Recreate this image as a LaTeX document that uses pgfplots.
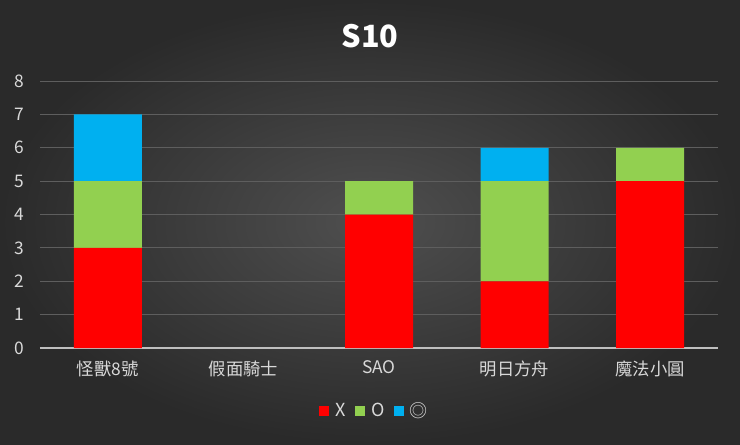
\documentclass[border=0pt]{standalone}
\usepackage{pgfplots}
\pgfplotsset{compat=1.18}
\usepackage{fontspec}
\setmainfont{Noto Sans CJK TC}
\definecolor{cx}{HTML}{FF0000}
\definecolor{co}{HTML}{92D050}
\definecolor{cd}{HTML}{00B0F0}
\definecolor{bgin}{HTML}{4F4F4F}
\definecolor{bgout}{HTML}{2A2A2A}
\definecolor{lbl}{HTML}{D9D9D9}
\definecolor{grd}{HTML}{5E5E5E}
\definecolor{axl}{HTML}{BFBFBF}
\begin{document}
\begin{tikzpicture}
\shade[inner color=bgin, outer color=bgout] (0pt,0pt) rectangle (555pt,333pt);
\node[font=\bfseries\fontsize{23}{26}\selectfont, text=white] at (277.5pt,306pt) {S10};
\begin{axis}[
  at={(30pt,72pt)}, anchor=south west,
  scale only axis, width=508.5pt, height=200.25pt,
  ybar stacked, bar width=51pt,
  xmin=-0.5, xmax=4.5, ymin=0, ymax=8,
  xtick={0,1,2,3,4},
  xticklabels={怪獸8號,假面騎士,SAO,明日方舟,魔法小圓},
  ytick={0,1,...,8},
  /pgf/number format/assume math mode=true,
  major tick length=0pt,
  axis x line*=bottom, axis y line*=left,
  x axis line style={draw=axl, line width=0.9pt, -},
  y axis line style={draw=none},
  ymajorgrids, grid style={draw=grd, line width=0.6pt},
  ticklabel style={text=lbl, font=\fontsize{13}{15}\selectfont},
  yticklabel style={xshift=-8.5pt},
  xticklabel style={yshift=-6pt},
  legend style={at={(0.494,-0.236)}, anchor=center, draw=none, fill=none,
    text=lbl, font=\fontsize{13.5}{15}\selectfont, legend columns=-1,
    /tikz/every even column/.append style={column sep=5pt}},
  legend cell align=left,
]
\addplot[fill=cx, draw=none, legend image code/.code={\fill[cx] (0pt,-3.8pt) rectangle (7.5pt,3.7pt); \path (10pt,0pt);}] coordinates {(0,3) (1,0) (2,4) (3,2) (4,5)};
\addlegendentry{X}
\addplot[fill=co, draw=none, legend image code/.code={\fill[co] (0pt,-3.8pt) rectangle (7.5pt,3.7pt); \path (10pt,0pt);}] coordinates {(0,2) (1,0) (2,1) (3,3) (4,1)};
\addlegendentry{O}
\addplot[fill=cd, draw=none, legend image code/.code={\fill[cd] (0pt,-3.8pt) rectangle (7.5pt,3.7pt); \path (10pt,0pt);}] coordinates {(0,2) (1,0) (2,0) (3,1) (4,0)};
\addlegendentry{◎}
\end{axis}
\end{tikzpicture}
\end{document}
